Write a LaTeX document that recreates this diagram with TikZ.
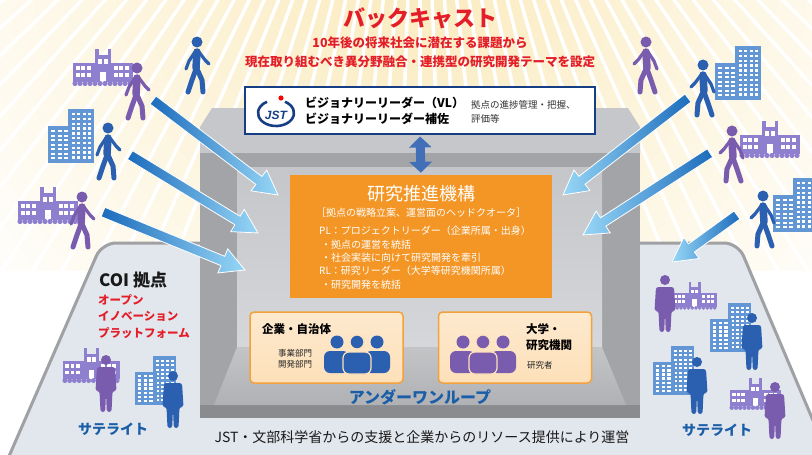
\documentclass[tikz,border=0pt]{standalone}
\usepackage{fontspec}
\setmainfont{Noto Sans CJK JP}
\newfontfamily\logofont{Liberation Sans}
\usepackage{tikz}
\usetikzlibrary{calc,arrows.meta}

\definecolor{rayyellow}{RGB}{250,234,188}
\definecolor{platfill}{RGB}{226,230,237}
\definecolor{platline}{RGB}{160,161,164}
\definecolor{boxtop}{RGB}{198,199,202}
\definecolor{boxfront}{RGB}{163,164,167}
\definecolor{boxinner}{RGB}{214,215,218}
\definecolor{boxfloor}{RGB}{176,177,180}
\definecolor{jstnavy}{RGB}{22,62,132}
\definecolor{hqorange}{RGB}{243,150,38}
\definecolor{unitfill}{RGB}{253,224,185}
\definecolor{unitline}{RGB}{241,162,62}
\definecolor{teamblue}{RGB}{42,96,175}
\definecolor{teampurple}{RGB}{122,92,174}
\definecolor{towerblue}{RGB}{98,150,212}
\definecolor{campuspurple}{RGB}{142,128,206}
\definecolor{beamdark}{RGB}{28,108,188}
\definecolor{beamlight}{RGB}{150,214,246}
\definecolor{castred}{RGB}{228,30,40}
\definecolor{loopblue}{RGB}{26,94,168}
\definecolor{linkblue}{RGB}{66,112,184}

\newcommand\ptsize[2]{\fontsize{#1}{#2}\selectfont}

% shaded block arrow from tail #1 to tip #2
\newcommand\shaftarrow[3]{%
  \coordinate (#1-neck) at ($(#2)!24pt!(#1)$);
  \shade[#3, draw=white, line width=0.8pt]
    ($(#1)!5pt!90:(#2)$) -- ($(#1-neck)!5pt!90:(#2)$) -- ($(#1-neck)!13pt!90:(#2)$)
    -- (#2) -- ($(#1-neck)!13pt!-90:(#2)$) -- ($(#1-neck)!5pt!-90:(#2)$)
    -- ($(#1)!5pt!-90:(#2)$) -- cycle;
}

\tikzset{
  walker/.pic={
    \fill (0,0) circle (5.5);
    \draw[line width=7.5pt, line cap=round] (0,10) -- (-1,26);
    \draw[line width=5pt, line cap=round, line join=round] (-1,27) -- (-5,38) -- (-9,50);
    \draw[line width=5pt, line cap=round, line join=round] (0,27) -- (5,38) -- (6,50);
    \draw[line width=3.2pt, line cap=round, line join=round] (-2,10) -- (-8,19) -- (-11,27);
    \draw[line width=3.2pt, line cap=round, line join=round] (2,10) -- (8,18) -- (12,22);
  },
  standing/.pic={
    \fill (0,0) circle (5);
    \fill[rounded corners=2.5] (-9,7) -- (9,7) -- (10.5,31) -- (6.5,31) -- (5.5,52)
      -- (0.8,52) -- (0,33) -- (-0.8,52) -- (-5.5,52) -- (-6.5,31) -- (-10.5,31) -- cycle;
  },
  towers/.pic={
    \fill (20,0) rectangle (46,-54);
    \foreach \c in {0,...,3}
      \foreach \r in {0,...,9}
        \fill[white] (23.5+\c*5.5,-50+\r*4.8) rectangle ++(3,2.4);
    \fill (0,0) rectangle (24,-37);
    \foreach \c in {0,...,2}
      \foreach \r in {0,...,6}
        \fill[white] (3+\c*6.5,-33+\r*4.5) rectangle ++(4,2.4);
  },
  campus/.pic={
    \fill (0,-22) rectangle (60,-3);
    \fill (22,-30) rectangle (38,-3);
    \fill (22,-36) rectangle (25.5,-29);
    \fill (34.5,-36) rectangle (38,-29);
    \foreach \x in {2.5,8,13.5,40.5,46,51.5}
      \foreach \y in {-19,-12}
        \fill[white] (\x,\y) rectangle ++(4,4);
    \foreach \x in {25,30.5}
      \fill[white] (\x,-26) rectangle ++(4,5);
    \fill[white] (27,-13) rectangle (33,-3);
    \foreach \x in {2,7,...,58}
      \fill (\x,-1.5) circle (2.6);
  },
  crowd/.pic={
    \fill (-20,0) circle (6.5);
    \fill (20,0) circle (6.5);
    \fill[rounded corners=6] (-33,31) -- (-33,9) -- (-8,9) -- (-8,31) -- cycle;
    \fill[rounded corners=6] (8,31) -- (8,9) -- (33,9) -- (33,31) -- cycle;
    \filldraw[draw=unitfill, line width=1.2pt, rounded corners=6]
      (-14,32) -- (-14,10) -- (14,10) -- (14,32) -- cycle;
    \filldraw[draw=unitfill, line width=1.2pt] (0,0) circle (7);
  }
}

\begin{document}
\begin{tikzpicture}[x=1pt, y=-1pt,
  txt/.style={inner sep=0pt},
  unit/.style={rounded corners=4pt, draw=unitline, line width=1.5pt,
    top color=unitfill!70!white, bottom color=unitfill,
    minimum width=153pt, minimum height=71pt},
  updown/.style={draw=linkblue, line width=9pt, shorten <=2pt, shorten >=2pt,
    {Triangle[width=22pt,length=11pt]}-{Triangle[width=22pt,length=11pt]}},
  leftbeam/.style={left color=beamdark, right color=beamlight},
  rightbeam/.style={left color=beamlight, right color=beamdark}]

\useasboundingbox (0,0) rectangle (812,455);
\clip (0,0) rectangle (812,455);

% light rays behind the title
\begin{scope}
  \clip (0,0) rectangle (812,270);
  \shade[inner color=rayyellow, outer color=white] (420,-40) circle (560);
  \foreach \a in {20,22,...,160}
    \draw[white, line width=3.5pt] (420,-350) -- ++(\a:900);
\end{scope}

% COI platform
\filldraw[fill=platfill, draw=platline, line width=3pt, rounded corners=14]
  (3,470) -- (102,243) -- (738,243) -- (834,470) -- cycle;

% the building
\fill[boxtop] (200,127) -- (212,108) -- (628,108) -- (640,127) -- (640,153) -- (200,153) -- cycle;
\fill[boxfront] (200,153) rectangle (640,418);
\fill[boxfront!85!black] (200,405) rectangle (640,418);
\shade[top color=boxinner!92!black, bottom color=boxinner] (237,167) rectangle (602,347);
\shade[top color=boxfloor!75!white, bottom color=boxfloor]
  (237,347) -- (602,347) -- (626,405) -- (214,405) -- cycle;

% JST box
\node[draw=jstnavy, line width=2pt, fill=white, minimum width=350pt, minimum height=47pt]
  (vl) at (420,110) {};
\draw[jstnavy, line width=2.6pt] (276,113) ++(300:18 and 13)
  arc[start angle=300, end angle=600, x radius=18, y radius=13];
\fill[red] (281,98) circle (2.6);
\node[txt, text=jstnavy, font=\logofont\bfseries\itshape\ptsize{12}{12}] (jst) at (276,115) {JST};
\node[txt, anchor=west, align=left, font=\bfseries\ptsize{12}{16}] (vlname) at (305,111)
  {ビジョナリーリーダー（VL）\\ビジョナリーリーダー補佐};
\node[txt, anchor=west, align=left, text=black!80, font=\ptsize{9.5}{14}] (vlrole) at (471,112)
  {拠点の進捗管理・把握、\\評価等};

% headquarters
\node[fill=hqorange, minimum width=262pt, minimum height=123pt] (hq) at (421,236.5) {};
\draw[updown] (vl.south) -- (hq.north);
\node[txt, text=white, font=\ptsize{18}{18}] (hqname) at (421,194) {研究推進機構};
\node[txt, text=white, font=\ptsize{10}{10}] (hqrole) at (421,213)
  {［拠点の戦略立案、運営面のヘッドクオータ］};
\node[txt, anchor=north west, align=left, text=white, font=\ptsize{10}{13.4}] (hqlist) at (319,226)
  {PL：プロジェクトリーダー（企業所属・出身）\\
   \hspace{2pt}・拠点の運営を統括\\
   \hspace{2pt}・社会実装に向けて研究開発を牽引\\
   RL：研究リーダー（大学等研究機関所属）\\
   \hspace{2pt}・研究開発を統括};

% member units
\node[unit] (firm) at (326.5,347.5) {};
\node[unit] (univ) at (515,347.5) {};
\pic[color=teamblue] at (357,342) {crowd};
\pic[color=teampurple] at (483,342) {crowd};
\node[txt, anchor=west, font=\bfseries\ptsize{11.5}{11.5}] (firmname) at (262,329) {企業・自治体};
\node[txt, align=center, text=black!85, font=\ptsize{8.5}{11.5}] (firmdept) at (295,359)
  {事業部門\\開発部門};
\node[txt, anchor=west, align=left, font=\bfseries\ptsize{11.5}{16}] (univname) at (526,337)
  {大学・\\研究機関};
\node[txt, anchor=west, text=black!85, font=\ptsize{8.5}{8.5}] (univstaff) at (527,365) {研究者};
\node[txt, text=loopblue, font=\bfseries\ptsize{16}{16}] (uol) at (420,397) {アンダーワンループ};

% people and sites around the building
\pic[color=campuspurple] at (73,85) {campus};
\pic[color=towerblue] at (48,163) {towers};
\pic[color=campuspurple] at (18,223) {campus};
\pic[color=teampurple] at (137,68) {walker};
\pic[color=teamblue] at (197,42) {walker};
\pic[color=teamblue] at (108,128) {walker};
\pic[color=teampurple] at (82,197) {walker};

\pic[color=towerblue] at (715,100) {towers};
\pic[color=campuspurple] at (740,157) {campus};
\pic[color=towerblue] at (773,232) {towers};
\pic[color=teampurple, xscale=-1] at (646,42) {walker};
\pic[color=teamblue, xscale=-1] at (703,65) {walker};
\pic[color=teampurple, xscale=-1] at (732,131) {walker};
\pic[color=teamblue, xscale=-1] at (763,196) {walker};

\pic[color=campuspurple, scale=0.95] at (63,382) {campus};
\pic[color=towerblue, scale=0.9] at (135,405) {towers};
\pic[color=teampurple] at (106,360) {standing};
\pic[color=teamblue] at (173,376) {standing};

\pic[color=campuspurple, scale=0.75] at (672,309) {campus};
\pic[color=towerblue, scale=0.9] at (710,352) {towers};
\pic[color=towerblue, scale=0.9] at (653,395) {towers};
\pic[color=campuspurple, scale=0.85] at (730,409) {campus};
\pic[color=teampurple] at (665,280) {standing};
\pic[color=teamblue] at (752,318) {standing};
\pic[color=teamblue] at (697,362) {standing};
\pic[color=teampurple] at (775,387) {standing};

% inflow arrows
\coordinate (la1) at (153,100); \coordinate (la1t) at (278,195);
\coordinate (la2) at (130,155); \coordinate (la2t) at (258,233);
\coordinate (la3) at (103,212); \coordinate (la3t) at (245,270);
\coordinate (ra1) at (688,98);  \coordinate (ra1t) at (563,195);
\coordinate (ra2) at (710,153); \coordinate (ra2t) at (583,235);
\coordinate (ra3) at (737,215); \coordinate (ra3t) at (672,262);
\shaftarrow{la1}{la1t}{leftbeam}
\shaftarrow{la2}{la2t}{leftbeam}
\shaftarrow{la3}{la3t}{leftbeam}
\shaftarrow{ra1}{ra1t}{rightbeam}
\shaftarrow{ra2}{ra2t}{rightbeam}
\shaftarrow{ra3}{ra3t}{rightbeam}

% captions
\node[txt, text=castred, font=\bfseries\ptsize{22}{22}] (cast) at (420,18) {バックキャスト};
\node[txt, text=castred, align=center, font=\bfseries\ptsize{12.5}{19}] (castnote) at (420,52.5)
  {10年後の将来社会に潜在する課題から\\現在取り組むべき異分野融合・連携型の研究開発テーマを設定};
\node[txt, anchor=west, text=black!90, font=\bfseries\ptsize{17}{17}] (coi) at (99,280) {COI 拠点};
\node[txt, anchor=west, align=left, text=castred, font=\bfseries\ptsize{11.5}{16.5}] (oip) at (98,316.5)
  {オープン\\イノベーション\\プラットフォーム};
\node[txt, text=loopblue, font=\bfseries\ptsize{14}{14}] (satl) at (113,429) {サテライト};
\node[txt, text=loopblue, font=\bfseries\ptsize{14}{14}] (satr) at (717,430) {サテライト};
\node[txt, text=black!90, font=\ptsize{14}{14}] (support) at (422,437)
  {JST・文部科学省からの支援と企業からのリソース提供により運営};
\end{tikzpicture}
\end{document}
